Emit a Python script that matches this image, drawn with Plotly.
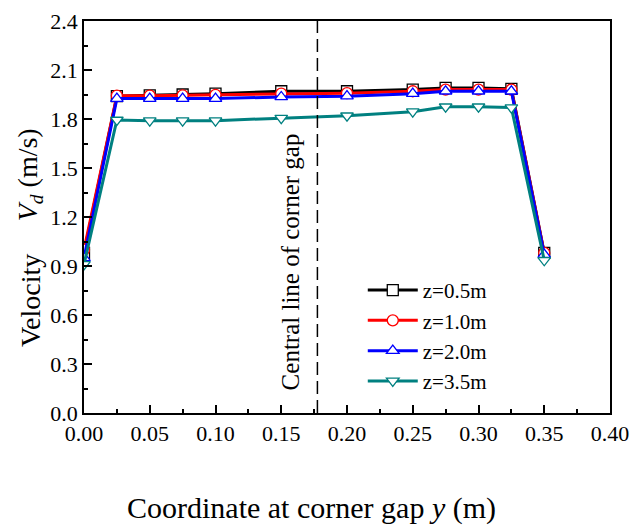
import plotly.graph_objects as go

y_pos = [0.0, 0.025, 0.05, 0.075, 0.1, 0.15, 0.2, 0.25, 0.275, 0.3, 0.325, 0.35]
v_z05 = [0.98, 1.94, 1.945, 1.95, 1.955, 1.97, 1.97, 1.98, 1.99, 1.99, 1.985, 0.98]
v_z10 = [1.00, 1.943, 1.943, 1.945, 1.948, 1.955, 1.958, 1.97, 1.98, 1.98, 1.98, 0.98]
v_z20 = [0.95, 1.925, 1.925, 1.925, 1.925, 1.935, 1.94, 1.955, 1.97, 1.97, 1.97, 0.97]
v_z35 = [0.91, 1.794, 1.79, 1.79, 1.79, 1.805, 1.82, 1.845, 1.875, 1.875, 1.87, 0.935]

series_names = ["z=0.5m", "z=1.0m", "z=2.0m", "z=3.5m"]
series_vals = [v_z05, v_z10, v_z20, v_z35]
colors = ["#000000", "#ff0000", "#0000ff", "#008080"]
symbols = ["square", "circle", "triangle-up", "triangle-down"]

CENTER_LINE = 0.1775
x_ticks = [0.0, 0.05, 0.1, 0.15, 0.2, 0.25, 0.3, 0.35, 0.4]
y_ticks = [0.0, 0.3, 0.6, 0.9, 1.2, 1.5, 1.8, 2.1, 2.4]

FONT = "Liberation Serif, Times New Roman, serif"

fig = go.Figure()
for name, vals, c, s in zip(series_names, series_vals, colors, symbols):
    fig.add_trace(go.Scatter(
        x=y_pos, y=vals, name=name, mode="lines+markers",
        line=dict(color=c, width=3),
        marker=dict(symbol=s, size=11, color="white", line=dict(color=c, width=1.3)),
    ))

fig.add_shape(type="line", x0=CENTER_LINE, x1=CENTER_LINE, y0=0, y1=2.4,
              xref="x", yref="y", line=dict(color="black", width=1.5, dash="13px,6px"))

fig.add_annotation(x=0.157, y=0.925, xref="x", yref="y", text="Central line of corner gap",
                   textangle=-90, showarrow=False, xanchor="center", yanchor="middle",
                   font=dict(family=FONT, size=25, color="black"))
fig.add_annotation(x=-0.103, y=0.69, xref="paper", yref="y", text="Velocity",
                   textangle=-90, showarrow=False, xanchor="center", yanchor="middle",
                   font=dict(family=FONT, size=28, color="black"))
fig.add_annotation(x=-0.103, y=1.46, xref="paper", yref="y", text="<i>V<sub>d</sub></i> (m/s)",
                   textangle=-90, showarrow=False, xanchor="center", yanchor="middle",
                   font=dict(family=FONT, size=28, color="black"))
fig.add_annotation(x=0.432, y=-0.242, xref="paper", yref="paper",
                   text="Coordinate at corner gap <i>y</i> (m)", showarrow=False,
                   xanchor="center", yanchor="middle",
                   font=dict(family=FONT, size=30, color="black"))

axis_common = dict(showline=True, linecolor="black", linewidth=1.5, mirror=True,
                   showgrid=False, zeroline=False, ticks="inside", ticklen=8,
                   tickwidth=1.5, tickcolor="black", automargin=False,
                   tickfont=dict(family=FONT, size=22, color="black"),
                   minor=dict(ticks="inside", ticklen=4, tickwidth=1.5, tickcolor="black"))

fig.update_xaxes(range=[0, 0.4], tickvals=x_ticks, tickformat=".2f",
                 minor_dtick=0.025, **axis_common)
fig.update_yaxes(range=[0, 2.4], tickvals=y_ticks, tickformat=".1f",
                 minor_dtick=0.15, **axis_common)

fig.update_layout(
    width=630, height=525,
    margin=dict(l=84, r=20, t=21, b=112),
    plot_bgcolor="white", paper_bgcolor="white",
    showlegend=True,
    legend=dict(x=0.53, y=0.365, xanchor="left", yanchor="top",
                bgcolor="rgba(0,0,0,0)", font=dict(family=FONT, size=21, color="black"),
                itemwidth=50, tracegroupgap=0),
)

fig.write_html("out.html")
